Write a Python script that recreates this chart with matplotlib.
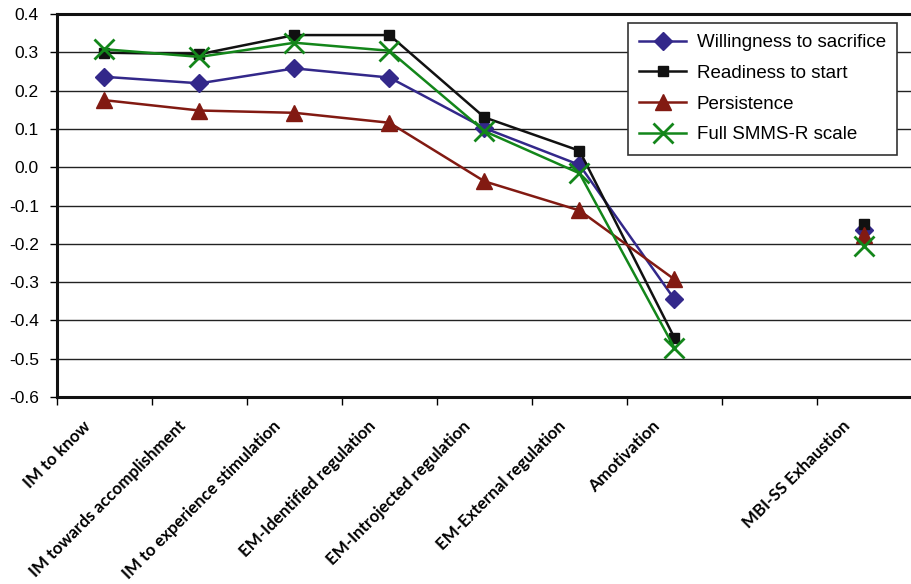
import numpy as np
import matplotlib
matplotlib.use("Agg")
import matplotlib.pyplot as plt
import matplotlib.transforms as mtransforms

# categories (index 7 is an empty slot in the original chart)
categories = ['IM to know', 'IM towards accomplishment', 'IM to experience stimulation',
              'EM-Identified regulation', 'EM-Introjected regulation', 'EM-External regulation',
              'Amotivation', '', 'MBI-SS Exhaustion']

# correlations, nan = gap
willingness = [0.236, 0.219, 0.258, 0.234, 0.102, 0.006, -0.345, np.nan, -0.163]
readiness = [0.299, 0.295, 0.345, 0.345, 0.130, 0.043, -0.446, np.nan, -0.147]
persistence = [0.175, 0.148, 0.142, 0.116, -0.037, -0.113, -0.293, np.nan, -0.177]
full_scale = [0.308, 0.288, 0.325, 0.304, 0.094, -0.016, -0.472, np.nan, -0.207]

yticks = [0.4, 0.3, 0.2, 0.1, 0.0, -0.1, -0.2, -0.3, -0.4, -0.5, -0.6]

x = np.arange(len(categories))

fig = plt.figure(figsize=(9.12, 5.84), dpi=100)
ax = fig.add_axes([57/912, 1-397/584, 1-57/912, (397-14)/584])

ax.set_ylim(-0.6, 0.4)
ax.set_xlim(-0.5, len(categories) - 0.5)
for y in yticks:
    ax.axhline(y, color='#222222', lw=1.0, zorder=1)

ax.plot(x, willingness, color='#33288a', lw=1.8, marker='D', ms=9,
        label='Willingness to sacrifice', zorder=3)
ax.plot(x, readiness, color='#111111', lw=1.8, marker='s', ms=6.5,
        label='Readiness to start', zorder=3)
ax.plot(x, persistence, color='#821a12', lw=1.8, marker='^', ms=12,
        label='Persistence', zorder=3)
ax.plot(x, full_scale, color='#13861a', lw=1.8, marker='x', ms=14, mew=2,
        label='Full SMMS-R scale', zorder=4)

ax.set_yticks(yticks)
ax.set_yticklabels(['%.1f' % v for v in yticks], fontsize=12.5, family='Liberation Sans')
ax.tick_params(axis='y', length=5, width=1, direction='out', pad=8)

ax.set_xticks(x)
ax.set_xticklabels([c for c in categories], rotation=45, ha='right', va='top',
                   fontsize=12.2, family='Lato', fontweight='bold')
ax.tick_params(axis='x', which='major', length=0, pad=15)
shift = mtransforms.ScaledTranslation(-11/100, 0, fig.dpi_scale_trans)
for lab in ax.get_xticklabels():
    lab.set_transform(lab.get_transform() + shift)
ax.set_xticks(np.arange(-0.5, len(categories)), minor=True)
ax.tick_params(axis='x', which='minor', length=6, width=1, direction='out')

for s in ['left', 'bottom', 'top']:
    ax.spines[s].set_linewidth(2.2)
    ax.spines[s].set_color('#111111')
ax.spines['right'].set_visible(False)

leg = ax.legend(loc='upper right', bbox_to_anchor=((897-57)/855, 1-(23-14)/383),
                prop={'family': 'Liberation Sans', 'size': 13.5},
                frameon=True, fancybox=False, edgecolor='#333333', framealpha=1,
                handlelength=2.5, handletextpad=0.55, labelspacing=0.72,
                borderpad=0.6, borderaxespad=0)
leg.get_frame().set_linewidth(1.2)

fig.savefig('out.png', dpi=100)
